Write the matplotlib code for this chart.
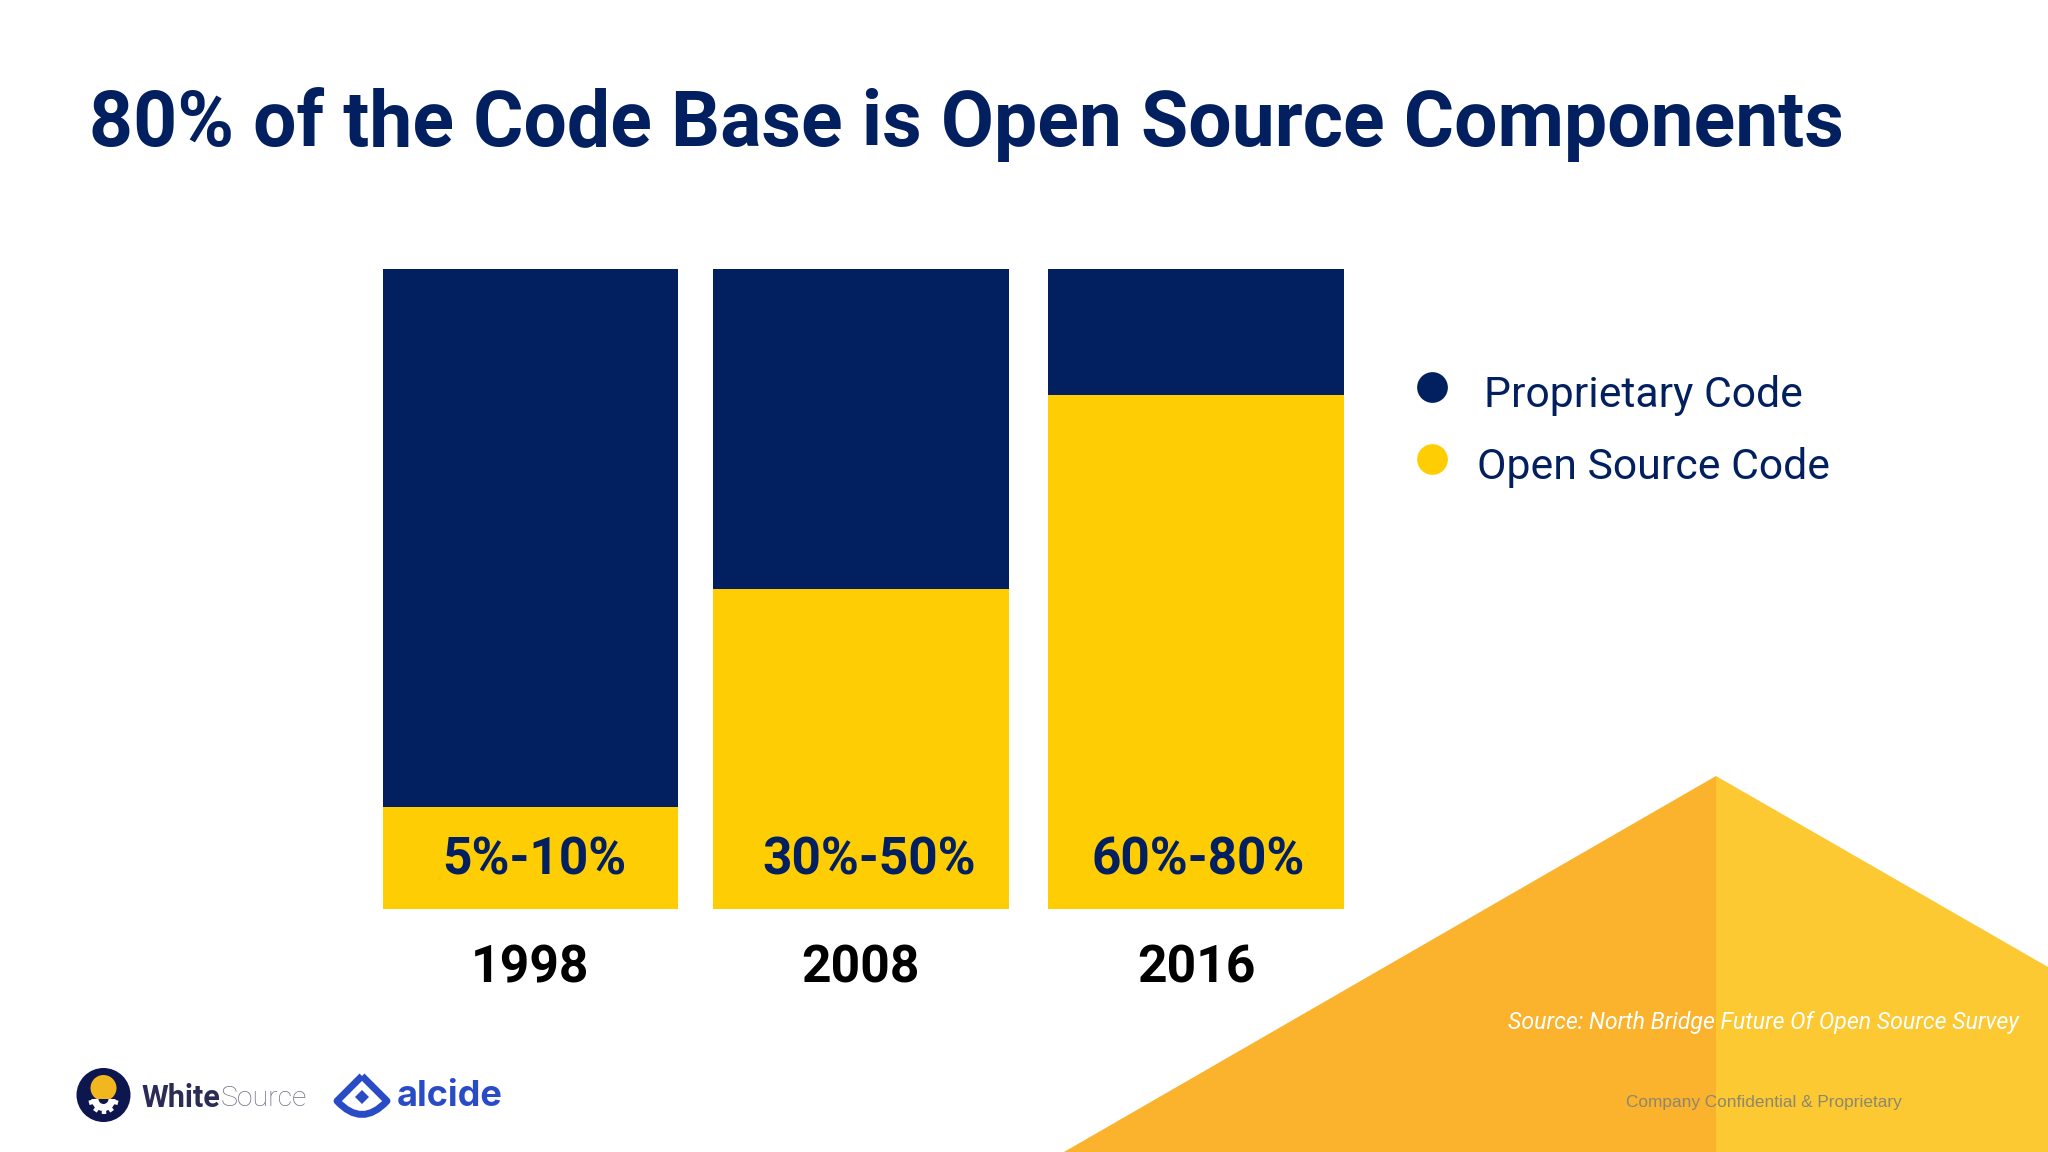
import matplotlib
matplotlib.use("Agg")
import matplotlib.pyplot as plt
import numpy as np
from matplotlib.patches import Polygon, Circle, Wedge, PathPatch, Ellipse
from matplotlib.path import Path

years = ["1998", "2008", "2016"]
open_source = [16, 50, 80.3]
proprietary = [84, 50, 19.7]
range_labels = ["5%-10%", "30%-50%", "60%-80%"]
series_names = ["Proprietary Code", "Open Source Code"]
title = "80% of the Code Base is Open Source Components"
source_note = "Source: North Bridge Future Of Open Source Survey"
footer_note = "Company Confidential & Proprietary"

NAVY = "#02205F"
YELLOW = "#FFCD03"
W, H = 2048, 1152

plt.rcParams["font.family"] = ["Roboto", "DejaVu Sans"]
fig = plt.figure(figsize=(20.48, 11.52), dpi=100, facecolor="#FFFFFF")

# full-slide overlay in pixel coordinates
bg = fig.add_axes([0, 0, 1, 1], zorder=0)
bg.set_xlim(0, W); bg.set_ylim(H, 0); bg.axis("off")
bg.add_patch(Polygon([(1064, H), (1716, 776), (1716, H)], closed=True, fc="#FBB22C", ec="none"))
bg.add_patch(Polygon([(1716, 776), (W, 967), (W, H), (1716, H)], closed=True, fc="#FCC932", ec="none"))

# bars
px_left, px_right, px_top, px_bottom = 382.5, 1344, 268.5, 909
ax = fig.add_axes([px_left / W, 1 - px_bottom / H, (px_right - px_left) / W, (px_bottom - px_top) / H], zorder=1)
ax.patch.set_alpha(0)
offsets = np.array([0, 0.9925, 2.0])
width = 0.8885
ax.bar(offsets, open_source, width=width, color=YELLOW, label=series_names[1])
ax.bar(offsets, proprietary, width=width, bottom=open_source, color=NAVY, label=series_names[0])
ax.set_xlim(offsets[0] - width / 2, offsets[2] + width / 2)
ax.set_ylim(0, 100)
ax.set_yticks([])
ax.set_xticks(offsets, years)
ax.tick_params(axis="x", length=0, pad=25, labelsize=37.2, labelcolor="black")
for lab in ax.get_xticklabels():
    lab.set_fontweight("bold")
for s in ax.spines.values():
    s.set_visible(False)
label_shift = [0.012, 0.025, 0.005]
for xp, lab, sh in zip(offsets, range_labels, label_shift):
    ax.text(xp + sh, 7.65, lab, ha="center", va="center", fontsize=37, fontweight="bold", color=NAVY)

# overlay for foreground text
fg = fig.add_axes([0, 0, 1, 1], zorder=2)
fg.set_xlim(0, W); fg.set_ylim(H, 0); fg.axis("off"); fg.patch.set_alpha(0)
fg.text(89, 124, title, fontsize=55.35, fontweight="bold", color=NAVY, va="center", ha="left")

fg.scatter([1432], [387], s=490, color=NAVY, linewidths=0)
fg.scatter([1432], [459], s=490, color=YELLOW, linewidths=0)
fg.text(1484, 395, series_names[0], fontsize=30.8, color=NAVY, va="center", ha="left")
fg.text(1477, 467, series_names[1], fontsize=30.8, color=NAVY, va="center", ha="left")

fg.text(1508, 1022, source_note, fontsize=16.65, style="italic", color="white", va="center", ha="left")
fg.text(1626, 1102, footer_note, fontsize=12.4, color="#8C8770", family="Liberation Sans", va="center", ha="left")

# WhiteSource logo
NAVY2 = "#0E1650"
fg.add_patch(Circle((103.5, 1095), 27, fc=NAVY2, ec="none"))
fg.add_patch(Ellipse((103.5, 1088), 26, 26, fc="#F2B71F", ec="none"))
fg.add_patch(Wedge((103.5, 1099), 12, 0, 180, fc="white", ec="none"))
for ang in np.radians([15, 55, 90, 125, 165]):
    fg.plot([103.5 + 10 * np.cos(ang), 103.5 + 15 * np.cos(ang)],
            [1099 + 10 * np.sin(ang), 1099 + 15 * np.sin(ang)], color="white", lw=3.2, solid_capstyle="butt")
fg.add_patch(Wedge((103.5, 1099), 5, 0, 180, fc=NAVY2, ec="none"))
fg.text(141, 1098, "White", fontsize=22, fontweight="bold", color="#2A2C55", va="center", ha="left")
fg.text(221, 1098, "Source", fontsize=20.5, fontweight="light", color="#6E7085", va="center", ha="left")

# alcide logo
BLUE = "#2A4BC6"
fg.add_patch(PathPatch(Path([(362, 1076), (387, 1101), (362, 1128), (337, 1101), (362, 1076)],
                            [Path.MOVETO, Path.LINETO, Path.CURVE3, Path.LINETO, Path.LINETO]),
                       fc="none", ec=BLUE, lw=5, joinstyle="round"))
fg.add_patch(Polygon([(362, 1090), (369, 1097), (362, 1104), (355, 1097)], closed=True, fc=BLUE, ec="none"))
fg.text(397, 1097, "alcide", fontsize=26, fontweight="bold", family="Inter", color=BLUE, va="center", ha="left")

fig.savefig("out.png", dpi=100, facecolor=fig.get_facecolor())
